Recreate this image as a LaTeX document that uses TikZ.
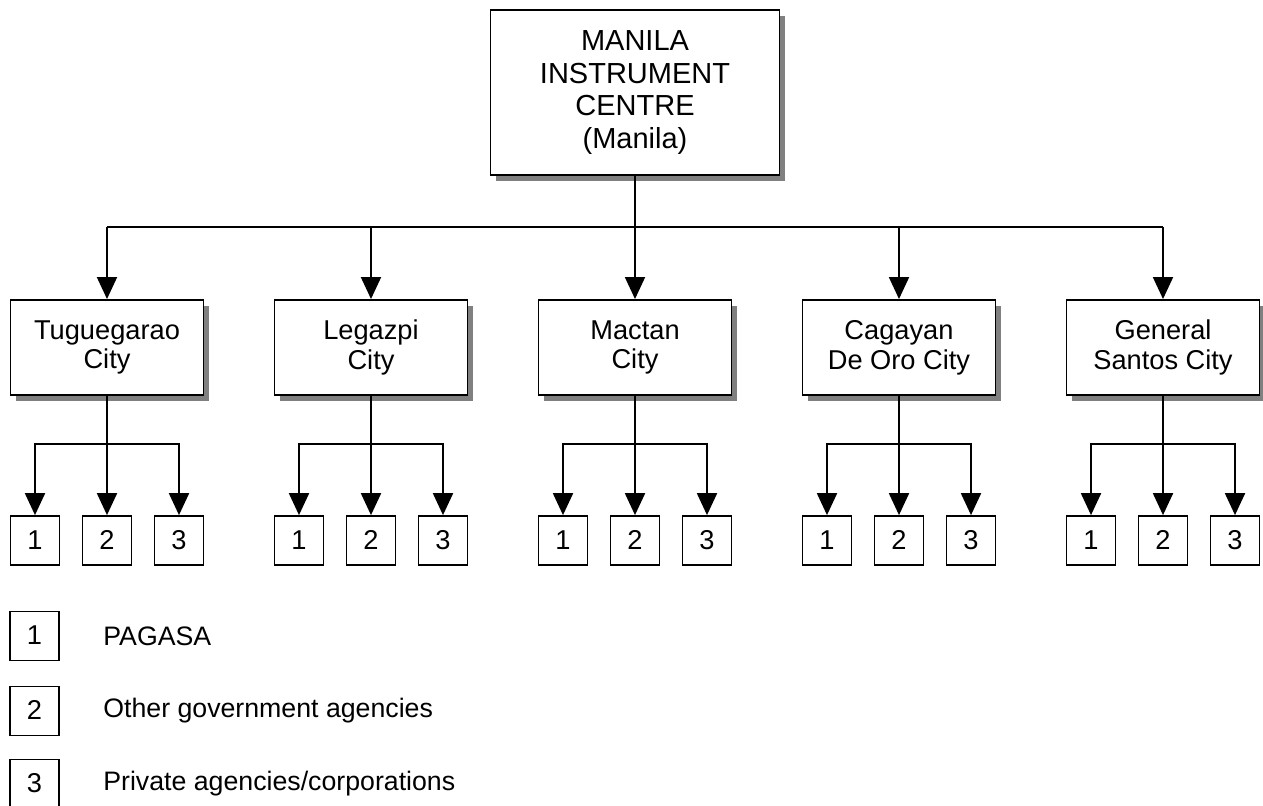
\documentclass[tikz,border=0pt]{standalone}
\usepackage{fontspec}
\setmainfont{Liberation Sans}
\usetikzlibrary{arrows.meta,shadows}

\begin{document}
\begin{tikzpicture}[
  centre/.style={draw,line width=1.1pt,fill=white,align=center,inner sep=0pt,
    drop shadow={shadow xshift=0.11cm,shadow yshift=-0.11cm,fill=black!50,opacity=1}},
  agency/.style={draw,line width=1pt,fill=white,inner sep=0pt,minimum width=0.98cm,minimum height=0.98cm,
    text height=1.0em,text depth=0pt,font=\fontsize{15.5}{17}\selectfont},
  link/.style={line width=1.1pt},
  arr/.style={line width=1.1pt,-{Triangle[length=0.44cm,width=0.4cm]}},
  legend/.style={anchor=west,inner sep=0pt,font=\fontsize{15.2}{17}\selectfont}
]

\useasboundingbox (0,0) rectangle (25.26,-16.10);

\node[centre,minimum width=5.78cm,minimum height=3.30cm,font=\fontsize{16.5}{18.7}\selectfont]
  (mic) at (12.70,-1.85) {MANILA\\INSTRUMENT\\CENTRE\\(Manila)};

\node[centre,minimum width=3.86cm,minimum height=1.90cm,font=\fontsize{15.5}{17}\selectfont] (tug) at (2.14,-6.95) {Tuguegarao\\City};
\node[centre,minimum width=3.86cm,minimum height=1.90cm,font=\fontsize{15.5}{17}\selectfont] (leg) at (7.42,-6.95) {Legazpi\\City};
\node[centre,minimum width=3.86cm,minimum height=1.90cm,font=\fontsize{15.5}{17}\selectfont] (mac) at (12.70,-6.95) {Mactan\\City};
\node[centre,minimum width=3.86cm,minimum height=1.90cm,font=\fontsize{15.5}{17}\selectfont] (cag) at (17.98,-6.95) {Cagayan\\De Oro City};
\node[centre,minimum width=3.86cm,minimum height=1.90cm,font=\fontsize{15.5}{17}\selectfont] (gen) at (23.26,-6.95) {General\\Santos City};

\coordinate (bus) at (12.70,-4.54);
\coordinate (br) at (12.70,-8.88);

\draw[link] (mic.south) -- (mic.south |- bus);
\draw[link] (tug.north |- bus) -- (gen.north |- bus);
\draw[arr] (tug.north |- bus) -- (tug.north);
\draw[arr] (leg.north |- bus) -- (leg.north);
\draw[arr] (mac.north |- bus) -- (mac.north);
\draw[arr] (cag.north |- bus) -- (cag.north);
\draw[arr] (gen.north |- bus) -- (gen.north);

\node[agency] (tug1) at (0.70,-10.81) {1};
\node[agency] (tug2) at (2.14,-10.81) {2};
\node[agency] (tug3) at (3.58,-10.81) {3};

\node[agency] (leg1) at (5.98,-10.81) {1};
\node[agency] (leg2) at (7.42,-10.81) {2};
\node[agency] (leg3) at (8.86,-10.81) {3};

\node[agency] (mac1) at (11.26,-10.81) {1};
\node[agency] (mac2) at (12.70,-10.81) {2};
\node[agency] (mac3) at (14.14,-10.81) {3};

\node[agency] (cag1) at (16.54,-10.81) {1};
\node[agency] (cag2) at (17.98,-10.81) {2};
\node[agency] (cag3) at (19.42,-10.81) {3};

\node[agency] (gen1) at (21.82,-10.81) {1};
\node[agency] (gen2) at (23.26,-10.81) {2};
\node[agency] (gen3) at (24.70,-10.81) {3};

\draw[arr] (tug.south) -- (tug2.north);
\draw[arr] (tug.south |- br) -| (tug1.north);
\draw[arr] (tug.south |- br) -| (tug3.north);

\draw[arr] (leg.south) -- (leg2.north);
\draw[arr] (leg.south |- br) -| (leg1.north);
\draw[arr] (leg.south |- br) -| (leg3.north);

\draw[arr] (mac.south) -- (mac2.north);
\draw[arr] (mac.south |- br) -| (mac1.north);
\draw[arr] (mac.south |- br) -| (mac3.north);

\draw[arr] (cag.south) -- (cag2.north);
\draw[arr] (cag.south |- br) -| (cag1.north);
\draw[arr] (cag.south |- br) -| (cag3.north);

\draw[arr] (gen.south) -- (gen2.north);
\draw[arr] (gen.south |- br) -| (gen1.north);
\draw[arr] (gen.south |- br) -| (gen3.north);

\node[agency] (key1) at (0.69,-12.72) {1};
\node[agency] (key2) at (0.69,-14.22) {2};
\node[agency] (key3) at (0.69,-15.68) {3};

\node[legend] (lab1) at (2.06,-12.72) {PAGASA};
\node[legend] (lab2) at (2.06,-14.22) {Other government agencies};
\node[legend] (lab3) at (2.06,-15.68) {Private agencies/corporations};

\end{tikzpicture}
\end{document}
